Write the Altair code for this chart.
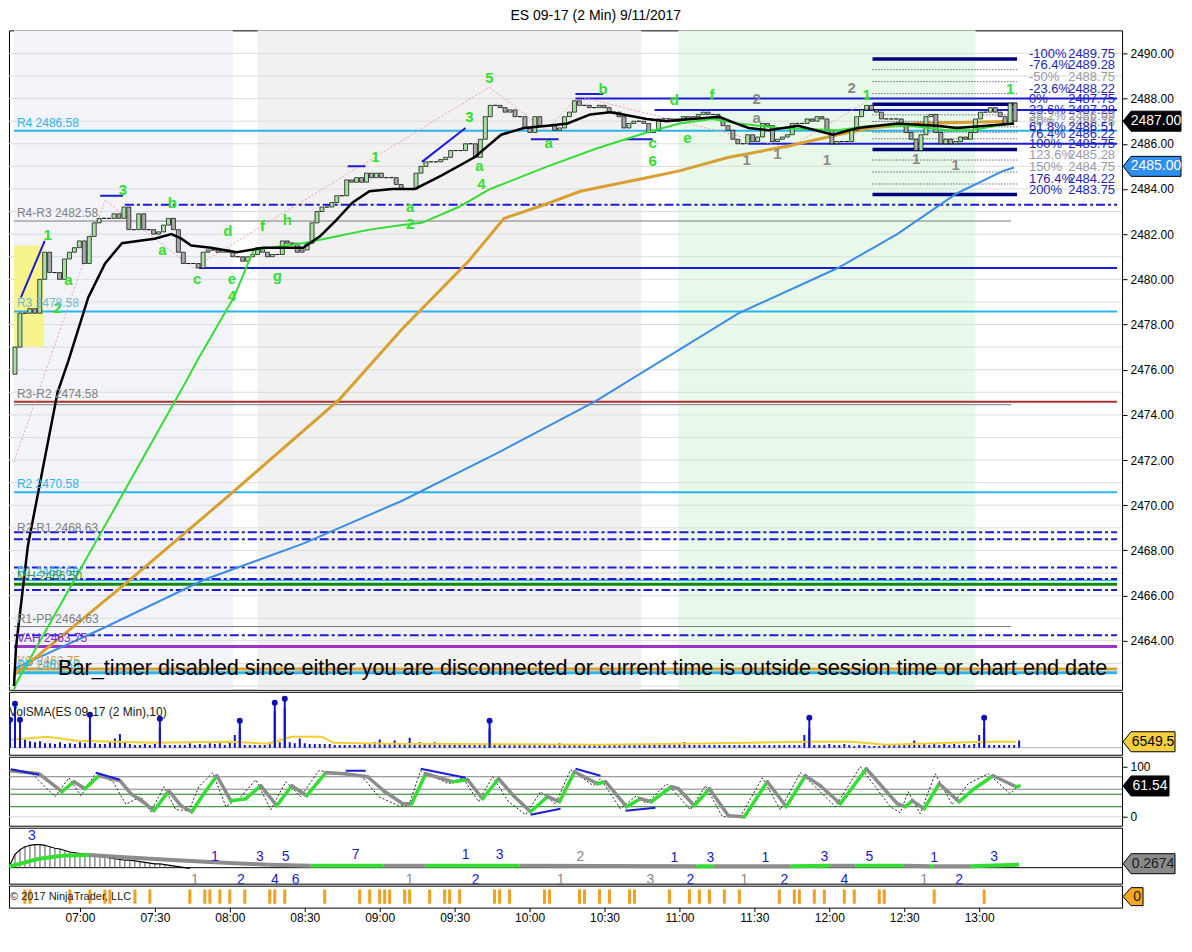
import altair as alt
import pandas as pd

FONT = "Liberation Sans"
W = 1114
H_MAIN, H_VOL, H_STO, H_MACD, H_STRIP = 660, 63, 69, 56, 22

# x is "minutes after 07:00"
X_DOMAIN = [-28.4, 417.2]
MAIN_DOMAIN = [2461.83, 2491.02]
VOL_DOMAIN = [-7630, 61040]
STO_DOMAIN = [-18, 120]
MACD_DOMAIN = [-1.07, 2.68]

TITLE = "ES 09-17 (2 Min)  9/11/2017"
TIME_TICKS = list(range(0, 361, 30))
PRICE_TICKS = list(range(2464, 2491, 2))
GRID_LEVELS = list(range(2462, 2491))

GREEN_TXT = "#2fe02f"
GREY_TXT = "#8a8a8a"
CYAN = "#2ab4ee"
BLUE = "#1c1cd8"
NAVY = "#00007a"
FIBTXT = "#2424b4"

# ---------------- price bars (2-minute, first bar 06:32) ----------------
FIRST_BAR_MIN = -28
BAR_STEP_MIN = 2
FIRST_OPEN = 2475.8
closes = [
    2477.0, 2478.5, 2478.5, 2478.7, 2478.5, 2480.0, 2481.2, 2480.3, 2480.3, 2480.0,
    2480.9, 2481.2, 2481.4, 2481.7, 2480.7, 2481.9, 2482.5, 2482.7, 2482.7, 2482.7,
    2482.9, 2482.7, 2483.2, 2482.2, 2482.2, 2482.9, 2482.2, 2482.2, 2482.0, 2482.1,
    2482.4, 2482.7, 2482.2, 2481.2, 2480.7, 2480.7, 2480.7, 2480.5, 2481.2, 2481.3,
    2481.3, 2481.2, 2481.3, 2481.2, 2481.0, 2481.0, 2480.8, 2481.0, 2481.1, 2481.4,
    2481.2, 2481.0, 2481.1, 2481.1, 2481.7, 2481.6, 2481.6, 2481.2, 2481.3, 2481.6,
    2482.5, 2483.0, 2483.2, 2483.2, 2483.4, 2483.7, 2483.7, 2484.4, 2484.3, 2484.5,
    2484.3, 2484.7, 2484.5, 2484.7, 2484.5, 2484.5, 2484.5, 2484.2, 2484.0, 2484.0,
    2484.0, 2484.7, 2485.0, 2485.2, 2485.2, 2485.2, 2485.3, 2485.4, 2485.7, 2485.7,
    2485.7, 2486.0, 2486.0, 2485.4, 2486.2, 2487.2, 2487.7, 2487.7, 2487.6, 2487.4,
    2487.5, 2487.2, 2487.2, 2486.7, 2486.5, 2487.2, 2486.8, 2486.8, 2486.8, 2486.6,
    2486.7, 2487.2, 2487.4, 2487.9, 2487.7, 2487.7, 2487.6, 2487.6, 2487.7, 2487.6,
    2487.4, 2487.4, 2487.2, 2486.7, 2486.9, 2487.0, 2487.0, 2486.9, 2486.5, 2486.6,
    2487.1, 2487.1, 2487.1, 2487.0, 2487.1, 2487.2, 2487.1, 2487.2, 2487.3, 2487.4,
    2487.3, 2487.3, 2487.1, 2486.8, 2486.6, 2486.2, 2486.0, 2486.0, 2486.4, 2486.1,
    2486.3, 2486.9, 2486.8, 2486.1, 2486.2, 2486.3, 2486.4, 2486.9, 2486.9, 2486.9,
    2487.1, 2487.0, 2487.2, 2487.1, 2486.6, 2486.0, 2486.1, 2486.1, 2486.1, 2486.6,
    2487.2, 2487.5, 2487.7, 2487.5, 2487.4, 2487.1, 2487.1, 2487.1, 2487.1, 2486.9,
    2486.5, 2486.2, 2485.7, 2486.4, 2487.2, 2487.3, 2486.5, 2486.0, 2486.2, 2486.0,
    2486.1, 2486.3, 2486.2, 2486.5, 2487.1, 2487.4, 2487.4, 2487.6, 2487.4, 2487.2,
    2486.9, 2487.8, 2487.0,
]
volumes = [
    20000, 47000, 20000, 9000, 7000, 6000, 7000, 5000, 5000, 4000,
    6000, 4000, 5000, 4000, 6000, 5000, 27000, 5000, 4000, 4000,
    6000, 10000, 15000, 6000, 4000, 3000, 3000, 4000, 3000, 4000,
    22000, 3000, 3000, 3000, 3000, 3000, 5000, 3000, 4000, 3000,
    5000, 4000, 5000, 3000, 7000, 14000, 21000, 3000, 3000, 3000,
    3000, 3000, 6000, 40000, 6000, 43000, 6000, 5000, 10000, 5000,
    4000, 4000, 4000, 4000, 4000, 3000, 3000, 3000, 3000, 3000,
    3000, 4000, 5000, 6000, 9000, 5000, 4000, 8000, 4000, 4000,
    11000, 4000, 6000, 5000, 5000, 6000, 4000, 3000, 3000, 3000,
    3000, 3000, 3000, 3000, 3000, 4000, 21000, 4000, 3000, 3000,
    3000, 3000, 3000, 3000, 3000, 3000, 3000, 3000, 3000, 4000,
    5000, 4000, 3000, 3000, 3000, 3000, 3000, 3000, 3000, 3000,
    3000, 3000, 3000, 4000, 3000, 3000, 4000, 3000, 3000, 3000,
    3000, 3000, 3000, 3000, 4000, 6000, 3000, 3000, 3000, 3000,
    3000, 3000, 3000, 3000, 3000, 3000, 3000, 3000, 3000, 3000,
    3000, 3000, 3000, 3000, 3000, 3000, 3000, 3000, 3000, 14000,
    21000, 3000, 3000, 3000, 4000, 3000, 3000, 4000, 3000, 2000,
    3000, 3000, 2000, 2000, 2000, 3000, 3000, 4000, 4000, 4000,
    3000, 8000, 3000, 4000, 3000, 4000, 3000, 4000, 3000, 4000,
    3000, 4000, 3000, 4000, 14000, 21000, 3000, 3000, 3000, 3000,
    3000, 3000, 8000,
]

# ---------------- moving averages (knots) ----------------
ma_black_t = [-28.4, -27.6, -22.8, -10.8, -6.4, 1.6, 8.4, 15.2, 21.6, 28.4, 35.2, 39.2, 43.2, 51.2,
              61.6, 72.4, 81.6, 88.4, 95.2, 101.6, 108.4, 115.2, 124.4, 133.6, 144.4, 157.6, 168.4,
              177.6, 187.2, 195.2, 204.4, 212.4, 217.6, 227.2, 235.2, 245.6, 256.4, 263.2, 268.4,
              276.4, 288.4, 302.4, 312.4, 320.4, 328.4, 344.4, 352.4, 364.4, 375.6]
ma_black_p = [2462.0, 2463.7, 2468.2, 2475.0, 2476.4, 2479.2, 2480.7, 2481.6, 2481.7, 2481.8, 2482.0,
              2481.8, 2481.5, 2481.4, 2481.2, 2481.4, 2481.4, 2481.4, 2481.9, 2482.6, 2483.4, 2483.9,
              2484.0, 2484.0, 2484.6, 2485.4, 2486.4, 2486.7, 2486.8, 2486.9, 2487.3, 2487.4, 2487.3,
              2487.1, 2487.0, 2487.1, 2487.2, 2486.9, 2486.7, 2486.6, 2486.8, 2486.4, 2486.7, 2486.8,
              2486.9, 2486.8, 2486.7, 2486.8, 2486.9]
ma_green_t = [-28.4, -27.6, 41.2, 45.6, 60.4, 68.4, 75.2, 88.4, 101.6, 115.2, 128.4, 136.4, 151.2, 164,
              187.2, 207.2, 227.2, 240.4, 253.6, 264.4, 280.4, 304.4, 317.6, 333.6, 348.4, 358.4,
              368.4, 375.6]
ma_green_p = [2461.8, 2462.1, 2475.5, 2476.4, 2479.2, 2481.3, 2481.4, 2481.6, 2481.9, 2482.2, 2482.4,
              2482.5, 2483.2, 2484.0, 2485.0, 2485.8, 2486.5, 2486.9, 2487.1, 2486.9, 2486.7, 2486.6,
              2486.8, 2486.8, 2486.6, 2486.6, 2486.8, 2486.9]
ma_gold_t = [-28.4, -23.6, 15.2, 59.2, 103.2, 128.4, 155.2, 169.6, 183.2, 200.4, 227.2, 240.4, 260.4,
             284.4, 304.4, 317.6, 336.4, 375.6]
ma_gold_p = [2462.5, 2462.9, 2466.4, 2470.5, 2474.7, 2477.8, 2480.8, 2482.7, 2483.2, 2483.9, 2484.5,
             2484.8, 2485.4, 2485.9, 2486.4, 2486.7, 2486.9, 2487.0]
ma_blue_t = [-28.4, -27.6, 8.4, 48.4, 88.4, 128.4, 168.4, 206.4, 264.4, 304.4, 328.4, 352.4, 371.2, 375.6]
ma_blue_p = [2462.4, 2462.8, 2464.6, 2466.7, 2468.3, 2470.2, 2472.4, 2474.6, 2478.5, 2480.5, 2482.0,
             2483.8, 2484.8, 2484.95]

zig_t = [-28.4, 8.4, 44.0, 163.6, 186.4, 199.6, 284.4, 316.4]
zig_p = [2471.9, 2483.5, 2480.5, 2488.5, 2486.6, 2488.1, 2485.8, 2487.9]

# ---------------- background sessions ----------------
shade_t0 = [-28.4, 70, 240]
shade_t1 = [60, 225, 360]
shade_col = ["#f3f4fa", "#f1f1f1", "#e9f9e9"]

hl_t0, hl_t1, hl_p0, hl_p1 = [-28.4], [-16.4], [2477.0], [2481.5]

# ---------------- horizontal levels ----------------
full_p = [2486.58, 2478.58, 2474.58, 2470.58, 2466.68, 2466.50, 2463.75, 2462.75, 2462.58]
full_col = [CYAN, CYAN, "#a83232", CYAN, CYAN, "#118811", "#9a33cc", "#d9a035", CYAN]
full_w = [2, 2, 2, 2, 1.5, 3, 3, 3, 3]
thin_p = [2482.58, 2474.45, 2464.63]
thin_end = 374.4
dd_p = [2483.3, 2468.8, 2468.5, 2467.24, 2466.74, 2466.25, 2464.25]
dd_start = [16.4, -28.4, -28.4, -28.4, -28.4, -28.4, -28.4]
bl_p = [2480.5, 2488.0, 2487.5, 2486.0]
bl_start = [46.4, 198.4, 230.4, 268.4]

seg_t0 = [-25.6, 6.4, 106.4, 136.4, 180.4, 198.4, 218.4]
seg_t1 = [-16.0, 15.6, 113.6, 154.0, 191.6, 209.6, 229.6]
seg_p0 = [2479.2, 2483.7, 2485.0, 2485.2, 2486.2, 2488.2, 2486.2]
seg_p1 = [2481.7, 2483.7, 2485.0, 2486.7, 2486.2, 2488.2, 2486.2]

piv_label = ["R4 2486.58", "R4-R3 2482.58", "R3 2478.58", "R3-R2 2474.58", "R2 2470.58",
             "R2-R1 2468.63", "R1 2466.68", "MH 2466.50", "R1-PP 2464.63", "VAH 2463.75",
             "YC 2462.75", "PP 2462.58"]
piv_p = [2486.58, 2482.58, 2478.58, 2474.58, 2470.58, 2468.63, 2466.68, 2466.50, 2464.63, 2463.75,
         2462.75, 2462.58]
piv_col = [CYAN, "#808080", "#6fb8d8", "#808080", CYAN, "#808080", CYAN, "#3a9a3a", "#808080",
           "#7a2ad0", "#c8a050", CYAN]

fib_pct = ["-100%", "-76.4%", "-50%", "-23.6%", "0%", "23.6%", "38.2%", "50%", "61.8%", "76.4%",
           "100%", "123.6%", "150%", "176.4%", "200%"]
fib_p = [2489.75, 2489.28, 2488.75, 2488.22, 2487.75, 2487.28, 2486.99, 2486.75, 2486.51, 2486.22,
         2485.75, 2485.28, 2484.75, 2484.22, 2483.75]
fib_val = ["2489.75", "2489.28", "2488.75", "2488.22", "2487.75", "2487.28", "2486.99", "2486.75",
           "2486.51", "2486.22", "2485.75", "2485.28", "2484.75", "2484.22", "2483.75"]
fib_thick = [1, 0, 0, 0, 1, 0, 0, 0, 0, 0, 1, 0, 0, 0, 1]
fib_grey = [0, 0, 1, 0, 0, 0, 1, 1, 0, 0, 0, 1, 1, 0, 0]
FIB_T0, FIB_T1 = 318.4, 376.8
FIB_PCT_T, FIB_VAL_T = 381.6, 416.4

wave_t = [-14.8, -10.8, -6.4, 15.6, 35.6, 31.6, 45.6, 58, 59.6, 59.6, 72, 82, 78, 117.6, 131.6, 131.6,
          155.6, 163.6, 159.6, 160.4, 187.6, 209.6, 229.6, 229.6, 238.4, 243.6, 253.6,
          271.6, 271.6, 267.6, 280, 300, 310, 336, 352, 316, 374]
wave_p = [2481.95, 2478.72, 2479.96, 2483.94, 2483.37, 2481.29, 2480.01, 2482.13, 2480.01, 2479.25,
          2482.35, 2482.62, 2480.14, 2485.40, 2483.19, 2482.44, 2487.17, 2488.89, 2485.0, 2484.21,
          2486.02, 2488.41, 2486.02, 2485.22, 2487.92, 2486.24, 2488.14,
          2487.97, 2487.13, 2485.27, 2485.53, 2485.27, 2488.45, 2485.31, 2485.05, 2488.14, 2488.41]
wave_s = ["1", "2", "a", "3", "b", "a", "c", "d", "e", "4", "f", "h", "g", "1", "a", "2",
          "3", "5", "a", "4", "a", "b", "c", "6", "d", "e", "f",
          "2", "a", "1", "1", "1", "2", "1", "1", "1", "1"]
wave_grey = [0] * 27 + [1] * 8 + [0, 0]

BAR_TIMER_TEXT = ("Bar_timer disabled since either you are disconnected or current time is "
                  "outside session time or chart end date")
BAR_TIMER_T, BAR_TIMER_P = -10.6, 2462.8

# ---------------- volume panel ----------------
vdot_t = [-28, -26, -24, 4, 32, 64, 78, 82, 164, 292, 362]
vdot_v = [30500, 48000, 30500, 36000, 31600, 29400, 49000, 53400, 29400, 32700, 32700]
vsma_t = [-28.4, -22.4, -13.2, -0.8, 29.6, 60.4, 75.6, 84.8, 96.8, 101.6, 121.6, 208.4, 242.8,
          290.4, 308.8, 322.8, 362.4, 374.8]
vsma_v = [8700, 9800, 12000, 7600, 5400, 6500, 4400, 12000, 12000, 5400, 4400, 3300, 4400, 6500,
          6500, 3300, 6500, 6500]

# ---------------- stochastics panel ----------------
sto_t = [-27.6, -16.4, -7.2, -2.4, 2, 7.6, 16, 20.4, 25.2, 29.6, 35.6, 40.4, 44.8, 49.6, 54.8, 60.4,
         66.4, 72.4, 78.8, 84.8, 90.8, 98.4, 106, 115.2, 121.6, 129.2, 132.8, 138.4, 149.2, 155.2,
         161.2, 167.6, 173.6, 180.4, 187.2, 192, 198, 207.2, 210.4, 218.8, 224.4, 228.8, 236.8,
         239.6, 246, 252, 259.6, 266, 275.2, 282.8, 290.4, 296.4, 304.4, 314.8, 327.2, 330.4,
         333.2, 338, 344, 352, 358, 365.6, 374.8, 376]
sto_v = [92, 86, 50, 70, 56, 82, 72, 46, 30, 12, 52, 22, 10, 46, 82, 32, 36, 62, 22, 62, 42, 88, 86,
         80, 52, 26, 26, 86, 70, 74, 36, 76, 42, 10, 40, 30, 90, 66, 70, 20, 36, 30, 60, 56, 22, 56,
         2, 0, 70, 20, 82, 62, 26, 96, 26, 20, 32, 16, 66, 30, 56, 82, 60, 61.5]
stf_t = [-28.4, -19.6, -10, -4.4, 0.4, 6.4, 13.2, 18.4, 24.4, 28.4, 33.6, 38.4, 43.6, 47.6, 53.2,
         58.4, 64.4, 70.4, 76.4, 82.4, 88.4, 95.6, 104.4, 112.4, 119.6, 127.6, 131.6, 136.4, 147.6,
         153.2, 159.6, 165.2, 171.6, 178.4, 184.4, 190.4, 196.4, 205.6, 208.4, 216.4, 222.8, 226.8,
         234.8, 238, 244.4, 250.4, 257.2, 264.4, 273.2, 280.4, 288.4, 294.4, 302.4, 312.4, 324.4,
         328.4, 331.6, 336.4, 342.4, 349.2, 355.6, 363.6, 372.4, 375.6]
stf_v = [95, 88, 40, 78, 42, 88, 70, 25, 40, 10, 60, 14, 12, 60, 88, 20, 40, 74, 14, 70, 40, 92, 88,
         84, 40, 22, 22, 92, 66, 78, 30, 80, 30, 4, 50, 25, 94, 62, 76, 16, 42, 26, 66, 50, 14, 62,
         0, 0, 78, 14, 88, 60, 20, 100, 20, 8, 50, 6, 86, 24, 66, 86, 46, 62]
sto_levels = [80, 55, 45, 20, 0]
sto_level_col = ["#808080", "#808080", "#1a7a1a", "#1a7a1a", "#d6d6d6"]
div_t0 = [-27.6, 6.4, 106.4, 136.4, 180.4, 198.4, 218.4]
div_t1 = [-16.4, 16.0, 114.4, 154.4, 192.4, 208.4, 230.4]
div_v0 = [95, 88, 92, 96, 4, 96, 12]
div_v1 = [84, 74, 92, 78, 16, 82, 18]

# ---------------- macd panel ----------------
macd_hist = [0.2, 0.9, 1.2, 1.4, 1.5, 1.55, 1.55, 1.5, 1.4, 1.3, 1.25, 1.15, 1.05, 1.0, 0.95, 0.9,
             0.85, 0.8, 0.75, 0.7, 0.65, 0.6, 0.55, 0.5, 0.5, 0.45, 0.4, 0.35, 0.3, 0.25, 0.25, 0.2,
             0.15, 0.1, 0.05, 0.0, -0.05]
sig_t = [-28.4, -16.4, -7.2, 3.6, 29.6, 54, 75.6, 92.4, 121.6, 138.4, 176, 246.8, 253.6, 284.4, 300.4,
         310.4, 329.6, 340.4, 342, 356.4, 376]
sig_v = [0.07, 0.6, 0.8, 0.85, 0.58, 0.36, 0.2, 0.13, 0.13, 0.13, 0.13, 0.1, 0.1, 0.1, 0.13, 0.13,
         0.13, 0.1, 0.1, 0.1, 0.2]
sig_up = [1, 1, 1, 0, 0, 0, 0, 1, 0, 1, 0, 1, 0, 1, 0, 1, 0, 1, 0, 1]
mlab_t = [-19.2, 54, 72, 82.4, 110.4, 154.4, 168, 200.4, 238, 252.4, 274.4, 298, 316, 342, 366,
          46, 64.4, 78, 86.4, 132, 158.4, 192.4, 228.4, 244.4, 266, 282, 306, 338, 352]
mlab_v = [2.1, 0.74, 0.7, 0.74, 0.87, 0.87, 0.87, 0.74, 0.67, 0.67, 0.67, 0.74, 0.74, 0.67, 0.74,
          -0.82, -0.82, -0.82, -0.82, -0.82, -0.82, -0.82, -0.82, -0.82, -0.82, -0.82, -0.82, -0.82,
          -0.82]
mlab_s = ["3", "1", "3", "5", "7", "1", "3", "2", "1", "3", "1", "3", "5", "1", "3",
          "1", "2", "4", "6", "1", "2", "1", "3", "2", "1", "2", "4", "1", "2"]
mlab_grey = [0, 0, 0, 0, 0, 0, 0, 1, 0, 0, 0, 0, 0, 0, 0,
             1, 0, 0, 0, 1, 0, 1, 1, 0, 1, 0, 0, 1, 0]

# ---------------- bottom strip ----------------
strip_t = [-22, -20, -4, 4, 10, 12, 22, 28, 44, 50, 52, 56, 60, 66, 76, 78, 82, 98, 112, 116, 120,
           122, 124, 130, 132, 140, 146, 148, 152, 166, 168, 172, 186, 188, 200, 202, 208, 212, 220,
           222, 236, 244, 248, 252, 258, 264, 280, 286, 288, 294, 298, 306, 310, 320, 322, 342, 362]

# ======================================================================
xs = alt.Scale(domain=X_DOMAIN, nice=False, zero=False)


def xq(f):
    return alt.X(f"{f}:Q", scale=xs, axis=None)


main_axis = alt.Axis(orient="right", values=PRICE_TICKS, format=".2f", grid=False, domain=False,
                     tickSize=5, tickColor="black", labelColor="black", labelFont=FONT,
                     labelFontSize=12, title=None, labelPadding=3)
main_scale = alt.Scale(domain=MAIN_DOMAIN, nice=False, zero=False)


def ym(f):
    return alt.Y(f"{f}:Q", scale=main_scale, axis=main_axis)


def df(**cols):
    keys = list(cols.keys())
    rows = list(zip(*[cols[k] for k in keys]))
    return pd.DataFrame(rows, columns=keys)


def tag(value, label, fill, text_col, yenc, w, h=20):
    d = pd.DataFrame({"v": [value], "s": [label]})
    hy = h / w
    nx = -1 + 16.0 / w
    path = f"M-1,0L{nx:.3f},{-hy:.3f}L1,{-hy:.3f}L1,{hy:.3f}L{nx:.3f},{hy:.3f}Z"
    cx = W + 1 + w / 2
    shp = alt.Chart(d).mark_point(shape=path, size=w * w, filled=True, fill=fill, color=fill,
                                  stroke="black", strokeWidth=1, opacity=1).encode(
        x=alt.value(cx), y=yenc("v"))
    txt = alt.Chart(d).mark_text(font=FONT, fontSize=14, color=text_col, align="center",
                                 baseline="middle").encode(
        x=alt.value(cx + 4), y=yenc("v"), text="s:N")
    return [shp, txt]


# ---------------- main panel ----------------
n = len(closes)
bar_t = [FIRST_BAR_MIN + BAR_STEP_MIN * i for i in range(n)]
opens = [FIRST_OPEN] + closes[:-1]
candles = df(t=bar_t, o=opens, c=closes)
candles["col"] = ["#a6e0a0" if c >= o else "#a8a8a8" for o, c in zip(opens, closes)]

L = []
L.append(alt.Chart(df(t0=shade_t0, t1=shade_t1, col=shade_col)).mark_rect(clip=True).encode(
    x=xq("t0"), x2="t1:Q", y=alt.value(0), y2=alt.value(H_MAIN),
    fill=alt.Fill("col:N", scale=None)))
L.append(alt.Chart(df(p=GRID_LEVELS)).mark_rule(color="#dcdcdc", strokeWidth=1).encode(y=ym("p")))
L.append(alt.Chart(df(t0=hl_t0, t1=hl_t1, p0=hl_p0, p1=hl_p1)).mark_rect(
    color="#f7f37a", opacity=0.85, clip=True).encode(x=xq("t0"), x2="t1:Q", y=ym("p0"), y2="p1:Q"))
L.append(alt.Chart(df(p=full_p, col=full_col, w=full_w, t0=[X_DOMAIN[0]] * len(full_p),
                      t1=[X_DOMAIN[1]] * len(full_p))).mark_rule(clip=True).encode(
    x=xq("t0"), x2="t1:Q", y=ym("p"), color=alt.Color("col:N", scale=None),
    strokeWidth=alt.StrokeWidth("w:Q", scale=None)))
L.append(alt.Chart(df(p=thin_p, t0=[X_DOMAIN[0]] * len(thin_p), t1=[thin_end] * len(thin_p)))
         .mark_rule(color="#7a7a7a", strokeWidth=1, clip=True).encode(
    x=xq("t0"), x2="t1:Q", y=ym("p")))
L.append(alt.Chart(df(p=dd_p, t0=dd_start, t1=[X_DOMAIN[1]] * len(dd_p))).mark_rule(
    color=BLUE, strokeWidth=2, strokeDash=[9, 3, 3, 3], clip=True).encode(
    x=xq("t0"), x2="t1:Q", y=ym("p")))
L.append(alt.Chart(df(p=bl_p, t0=bl_start, t1=[X_DOMAIN[1]] * len(bl_p))).mark_rule(
    color=BLUE, strokeWidth=2, clip=True).encode(x=xq("t0"), x2="t1:Q", y=ym("p")))
fibd = df(p=fib_p, thick=fib_thick, grey=fib_grey, pct=fib_pct, val=fib_val)
fibd["t0"] = FIB_T0
fibd["t1"] = FIB_T1
L.append(alt.Chart(fibd[fibd.thick == 0]).mark_rule(color="#202040", strokeWidth=1,
                                                     strokeDash=[1, 2]).encode(
    x=xq("t0"), x2="t1:Q", y=ym("p")))
L.append(alt.Chart(fibd[fibd.thick == 1]).mark_rule(color=NAVY, strokeWidth=3.5).encode(
    x=xq("t0"), x2="t1:Q", y=ym("p")))
L.append(alt.Chart(df(t=zig_t, p=zig_p)).mark_line(color="#f2a0a0", strokeWidth=1,
                                                   strokeDash=[2, 2], clip=True).encode(
    x=xq("t"), y=ym("p")))
L.append(alt.Chart(df(t0=seg_t0, t1=seg_t1, p0=seg_p0, p1=seg_p1)).mark_rule(
    color=BLUE, strokeWidth=2, clip=True).encode(x=xq("t0"), x2="t1:Q", y=ym("p0"), y2="p1:Q"))
L.append(alt.Chart(df(t=ma_blue_t, p=ma_blue_p)).mark_line(color="#3a8ee6", strokeWidth=2,
                                                           clip=True).encode(x=xq("t"), y=ym("p")))
L.append(alt.Chart(df(t=ma_gold_t, p=ma_gold_p)).mark_line(color="#d8a030", strokeWidth=3,
                                                           clip=True).encode(x=xq("t"), y=ym("p")))
L.append(alt.Chart(candles).mark_bar(size=4, stroke="black", strokeWidth=0.7, clip=True).encode(
    x=xq("t"), y=ym("o"), y2="c:Q", fill=alt.Fill("col:N", scale=None)))
L.append(alt.Chart(df(t=ma_green_t, p=ma_green_p)).mark_line(color="#33dd33", strokeWidth=2,
                                                             clip=True).encode(x=xq("t"), y=ym("p")))
L.append(alt.Chart(df(t=ma_black_t, p=ma_black_p)).mark_line(color="black", strokeWidth=2.5,
                                                             clip=True).encode(x=xq("t"), y=ym("p")))
waves = df(t=wave_t, p=wave_p, s=wave_s, g=wave_grey)
waves["col"] = [GREY_TXT if g else GREEN_TXT for g in waves.g]
L.append(alt.Chart(waves).mark_text(font=FONT, fontSize=15, fontWeight="bold", align="center",
                                    baseline="middle").encode(
    x=xq("t"), y=ym("p"), text="s:N", color=alt.Color("col:N", scale=None)))
pivl = df(p=piv_p, s=piv_label, col=piv_col)
pivl["t"] = -27.2
L.append(alt.Chart(pivl).mark_text(font=FONT, fontSize=12, align="left", baseline="bottom",
                                   dy=-1).encode(
    x=xq("t"), y=ym("p"), text="s:N", color=alt.Color("col:N", scale=None)))
fibd["col"] = ["#9a9aa8" if g else FIBTXT for g in fibd.grey]
fibd["tp"] = FIB_PCT_T
fibd["tv"] = FIB_VAL_T
L.append(alt.Chart(fibd).mark_text(font=FONT, fontSize=13, align="left", baseline="middle",
                                   dy=-5).encode(
    x=xq("tp"), y=ym("p"), text="pct:N", color=alt.Color("col:N", scale=None)))
L.append(alt.Chart(fibd).mark_text(font=FONT, fontSize=13, align="right", baseline="middle",
                                   dy=-5).encode(
    x=xq("tv"), y=ym("p"), text="val:N", color=alt.Color("col:N", scale=None)))
L.append(alt.Chart(df(t=[BAR_TIMER_T], p=[BAR_TIMER_P], s=[BAR_TIMER_TEXT])).mark_text(
    font=FONT, fontSize=21.7, align="left", baseline="middle", color="black").encode(
    x=xq("t"), y=ym("p"), text="s:N"))
L += tag(closes[-1], "2487.00", "black", "white", ym, 58)
L += tag(2485.0, "2485.00", "#2e8ff0", "white", ym, 58)
main = alt.layer(*L).properties(width=W, height=H_MAIN)

# ---------------- volume panel ----------------
vol_scale = alt.Scale(domain=VOL_DOMAIN, nice=False, zero=False)


def yv(f):
    return alt.Y(f"{f}:Q", scale=vol_scale, axis=None)


vb = df(t=bar_t, v=volumes)
vb["z"] = 0
V = []
V.append(alt.Chart(df(z=[0])).mark_rule(color="#b0b0b0", strokeWidth=1).encode(y=yv("z")))
V.append(alt.Chart(vb).mark_rule(color="#1010d0", strokeWidth=2, clip=True).encode(
    x=xq("t"), y=yv("z"), y2="v:Q"))
V.append(alt.Chart(df(t=vsma_t, v=vsma_v)).mark_line(color="#f2d030", strokeWidth=2,
                                                     clip=True).encode(x=xq("t"), y=yv("v")))
vd = df(t=vdot_t, v=vdot_v)
vd["z"] = 0
V.append(alt.Chart(vd).mark_rule(color="#1010d0", strokeWidth=2, clip=True).encode(
    x=xq("t"), y=yv("z"), y2="v:Q"))
V.append(alt.Chart(vd).mark_circle(size=36, color="#1010b0", opacity=1, clip=True).encode(
    x=xq("t"), y=yv("v")))
V.append(alt.Chart(df(s=["VolSMA(ES 09-17 (2 Min),10)"])).mark_text(
    font=FONT, fontSize=12, align="left", baseline="middle", color="#202020").encode(
    x=alt.value(0), y=alt.value(20), text="s:N"))
V += tag(6549.5, "6549.5", "#f6d040", "black", yv, 52)
vol = alt.layer(*V).properties(width=W, height=H_VOL)

# ---------------- stochastics panel ----------------
sto_scale = alt.Scale(domain=STO_DOMAIN, nice=False, zero=False)
sto_axis = alt.Axis(orient="right", values=[0, 100], format="d", grid=False, domain=False,
                    tickSize=5, tickColor="black", labelColor="black", labelFont=FONT,
                    labelFontSize=12, title=None, labelPadding=3)


def ys(f):
    return alt.Y(f"{f}:Q", scale=sto_scale, axis=sto_axis)


segs = df(t0=sto_t[:-1], t1=sto_t[1:], v0=sto_v[:-1], v1=sto_v[1:])
segs["col"] = ["#33dd33" if b > a else "#8c8c8c" for a, b in zip(segs.v0, segs.v1)]
S = []
S.append(alt.Chart(df(v=sto_levels, col=sto_level_col)).mark_rule(strokeWidth=1).encode(
    y=ys("v"), color=alt.Color("col:N", scale=None)))
S.append(alt.Chart(df(t=stf_t, v=stf_v)).mark_line(color="#222222", strokeWidth=1,
                                                   strokeDash=[2, 2], clip=True).encode(
    x=xq("t"), y=ys("v")))
S.append(alt.Chart(segs).mark_rule(strokeWidth=3.5, strokeCap="round", clip=True).encode(
    x=xq("t0"), x2="t1:Q", y=ys("v0"), y2="v1:Q", color=alt.Color("col:N", scale=None)))
S.append(alt.Chart(df(t0=div_t0, t1=div_t1, v0=div_v0, v1=div_v1)).mark_rule(
    color=BLUE, strokeWidth=2, clip=True).encode(x=xq("t0"), x2="t1:Q", y=ys("v0"), y2="v1:Q"))
S += tag(61.54, "61.54", "black", "white", ys, 46)
sto = alt.layer(*S).properties(width=W, height=H_STO)

# ---------------- macd panel ----------------
macd_scale = alt.Scale(domain=MACD_DOMAIN, nice=False, zero=False)


def yc(f):
    return alt.Y(f"{f}:Q", scale=macd_scale, axis=None)


hist = df(t=bar_t[:len(macd_hist)], v=macd_hist)
hist["z"] = 0
sigs = df(t0=sig_t[:-1], t1=sig_t[1:], v0=sig_v[:-1], v1=sig_v[1:], up=sig_up)
sigs["col"] = ["#33dd33" if u else "#8c8c8c" for u in sigs.up]
mlab = df(t=mlab_t, v=mlab_v, s=mlab_s, g=mlab_grey)
mlab["col"] = [GREY_TXT if g else "#1a1acc" for g in mlab.g]
M = []
M.append(alt.Chart(df(z=[0])).mark_rule(color="black", strokeWidth=1).encode(y=yc("z")))
M.append(alt.Chart(hist).mark_rule(color="#555555", strokeWidth=1, clip=True).encode(
    x=xq("t"), y=yc("z"), y2="v:Q"))
M.append(alt.Chart(hist).mark_line(color="black", strokeWidth=1.2, clip=True).encode(
    x=xq("t"), y=yc("v")))
M.append(alt.Chart(sigs).mark_rule(strokeWidth=4, clip=True).encode(
    x=xq("t0"), x2="t1:Q", y=yc("v0"), y2="v1:Q", color=alt.Color("col:N", scale=None)))
M.append(alt.Chart(mlab).mark_text(font=FONT, fontSize=14, align="center", baseline="middle",
                                   clip=True).encode(
    x=xq("t"), y=yc("v"), text="s:N", color=alt.Color("col:N", scale=None)))
M += tag(0.2674, "0.2674", "#8a8a8a", "#202020", yc, 52)
macd = alt.layer(*M).properties(width=W, height=H_MACD)

# ---------------- bottom strip ----------------
strip_scale = alt.Scale(domain=[0, 1], nice=False, zero=False)
time_axis = alt.Axis(values=TIME_TICKS, grid=False, domain=False, tickSize=4, tickColor="black",
                     labelColor="black", labelFont=FONT, labelFontSize=12, title=None,
                     labelPadding=1,
                     labelExpr="format(floor((datum.value+420)/60),'02d') + ':' + "
                               "format((datum.value+420)%60,'02d')")


def yt(f):
    return alt.Y(f"{f}:Q", scale=strip_scale, axis=None)


st = df(t=strip_t)
st["a"] = 0.18
st["b"] = 0.82
T = []
T.append(alt.Chart(st).mark_rule(color="#f0a020", strokeWidth=3, clip=True).encode(
    x=alt.X("t:Q", scale=xs, axis=time_axis), y=yt("a"), y2="b:Q"))
T.append(alt.Chart(df(s=["\u00a9 2017 NinjaTrader, LLC"])).mark_text(
    font=FONT, fontSize=11, align="left", baseline="middle", color="#202020").encode(
    x=alt.value(1), y=alt.value(11), text="s:N"))
T += tag(0.5, "0", "#f5a623", "#202020", yt, 20, h=18)
strip = alt.layer(*T).properties(width=W, height=H_STRIP)

chart = alt.vconcat(main, vol, sto, macd, strip, spacing=0).properties(
    title=alt.TitleParams(TITLE, font=FONT, fontSize=14, fontWeight="normal", anchor="middle",
                          offset=7, color="black"),
    padding=0,
).configure_view(stroke="black", strokeWidth=1)

chart.save("out.html", embed_options={"renderer": "svg", "actions": False})
